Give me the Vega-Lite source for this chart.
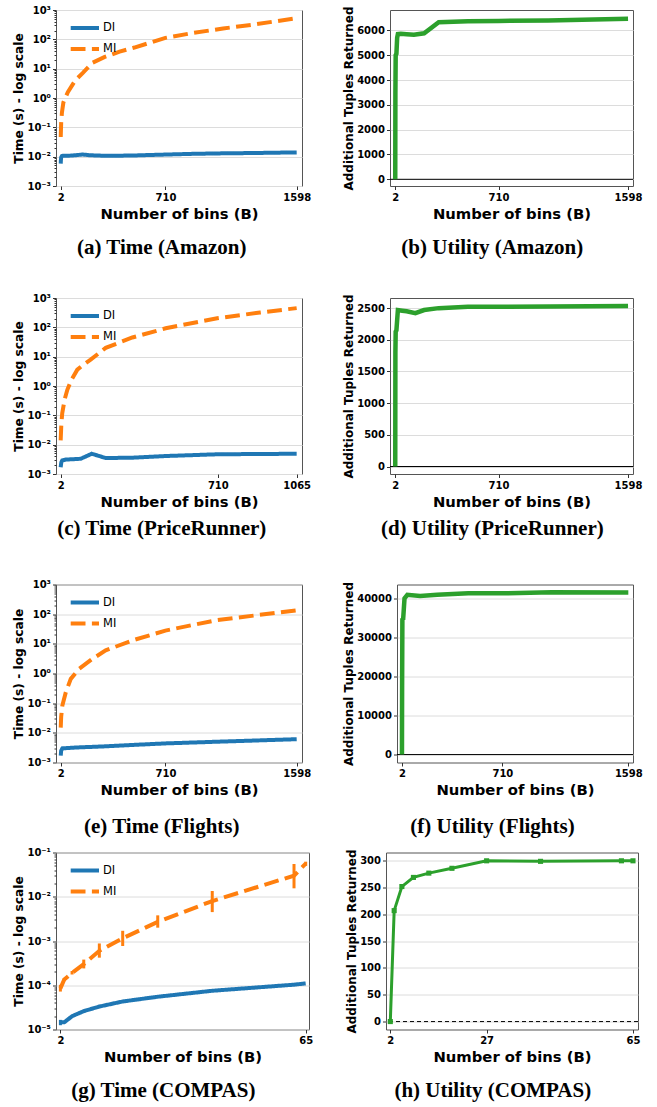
{
"$schema": "https://vega.github.io/schema/vega-lite/v6.json",
"padding": {"left": 12, "top": 4, "right": 0, "bottom": 0},
"datasets": {
"tA": [
{"B":2,"m":"DI","t":0.0058},{"B":3,"m":"DI","t":0.0075},{"B":5,"m":"DI","t":0.0095},{"B":10,"m":"DI","t":0.0105},{"B":20,"m":"DI","t":0.0108},{"B":50,"m":"DI","t":0.0107},{"B":100,"m":"DI","t":0.0112},{"B":150,"m":"DI","t":0.0118},{"B":200,"m":"DI","t":0.0112},{"B":300,"m":"DI","t":0.0107},{"B":400,"m":"DI","t":0.0108},{"B":500,"m":"DI","t":0.011},{"B":710,"m":"DI","t":0.0118},{"B":900,"m":"DI","t":0.0125},{"B":1100,"m":"DI","t":0.013},{"B":1300,"m":"DI","t":0.0133},{"B":1598,"m":"DI","t":0.014},
{"B":2,"m":"MI","t":0.0468},{"B":5,"m":"MI","t":0.141},{"B":10,"m":"MI","t":0.316},{"B":20,"m":"MI","t":0.708},{"B":50,"m":"MI","t":1.585},{"B":100,"m":"MI","t":3.98},{"B":150,"m":"MI","t":7.08},{"B":216,"m":"MI","t":15.8},{"B":300,"m":"MI","t":25.1},{"B":400,"m":"MI","t":38},{"B":500,"m":"MI","t":52.5},{"B":710,"m":"MI","t":112},{"B":900,"m":"MI","t":166},{"B":1100,"m":"MI","t":234},{"B":1300,"m":"MI","t":316},{"B":1598,"m":"MI","t":525}
],
"uA": [
{"B":2,"u":0},{"B":3,"u":3500},{"B":5,"u":5000},{"B":10,"u":5050},{"B":15,"u":5700},{"B":20,"u":5850},{"B":40,"u":5860},{"B":80,"u":5840},{"B":130,"u":5820},{"B":200,"u":5880},{"B":300,"u":6330},{"B":500,"u":6370},{"B":710,"u":6380},{"B":1050,"u":6400},{"B":1598,"u":6470}
],
"tP": [
{"B":2,"m":"DI","t":0.0017},{"B":5,"m":"DI","t":0.0025},{"B":9,"m":"DI","t":0.0029},{"B":25,"m":"DI","t":0.0031},{"B":92,"m":"DI","t":0.0033},{"B":142,"m":"DI","t":0.0049},{"B":205,"m":"DI","t":0.0035},{"B":325,"m":"DI","t":0.0036},{"B":475,"m":"DI","t":0.0041},{"B":707,"m":"DI","t":0.0047},{"B":1065,"m":"DI","t":0.0049},
{"B":2,"m":"MI","t":0.014},{"B":5,"m":"MI","t":0.05},{"B":9,"m":"MI","t":0.117},{"B":20,"m":"MI","t":0.35},{"B":32,"m":"MI","t":0.74},{"B":50,"m":"MI","t":1.6},{"B":77,"m":"MI","t":3.6},{"B":100,"m":"MI","t":5.0},{"B":137,"m":"MI","t":7.9},{"B":205,"m":"MI","t":20},{"B":325,"m":"MI","t":45},{"B":475,"m":"MI","t":93},{"B":707,"m":"MI","t":204},{"B":900,"m":"MI","t":320},{"B":1065,"m":"MI","t":452}
],
"uP": [
{"B":2,"u":0},{"B":3,"u":1800},{"B":5,"u":2130},{"B":10,"u":2150},{"B":20,"u":2470},{"B":50,"u":2460},{"B":80,"u":2450},{"B":140,"u":2420},{"B":200,"u":2470},{"B":300,"u":2500},{"B":500,"u":2520},{"B":710,"u":2520},{"B":1065,"u":2525},{"B":1598,"u":2535}
],
"tF": [
{"B":2,"m":"DI","t":0.0017},{"B":5,"m":"DI","t":0.0025},{"B":13,"m":"DI","t":0.003},{"B":103,"m":"DI","t":0.0032},{"B":300,"m":"DI","t":0.0035},{"B":486,"m":"DI","t":0.0039},{"B":710,"m":"DI","t":0.0044},{"B":1050,"m":"DI","t":0.005},{"B":1598,"m":"DI","t":0.0061},
{"B":2,"m":"MI","t":0.015},{"B":5,"m":"MI","t":0.035},{"B":13,"m":"MI","t":0.083},{"B":36,"m":"MI","t":0.23},{"B":70,"m":"MI","t":0.66},{"B":126,"m":"MI","t":1.44},{"B":216,"m":"MI","t":3.1},{"B":306,"m":"MI","t":6},{"B":486,"m":"MI","t":13},{"B":710,"m":"MI","t":28},{"B":1050,"m":"MI","t":62},{"B":1598,"m":"MI","t":135}
],
"uF": [
{"B":2,"u":0},{"B":3,"u":17600},{"B":5,"u":34900},{"B":10,"u":34500},{"B":20,"u":40000},{"B":40,"u":40900},{"B":130,"u":40600},{"B":250,"u":40900},{"B":470,"u":41300},{"B":710,"u":41300},{"B":1060,"u":41550},{"B":1598,"u":41500}
],
"tC": [
{"B":2,"m":"DI","t":0.0000145,"lo":0.0000125,"hi":0.0000165},{"B":3,"m":"DI","t":0.0000145},{"B":5,"m":"DI","t":0.00002},{"B":8,"m":"DI","t":0.000026},{"B":12,"m":"DI","t":0.000033},{"B":18,"m":"DI","t":0.000043},{"B":27,"m":"DI","t":0.000055},{"B":41,"m":"DI","t":0.000075},{"B":62,"m":"DI","t":0.000103,"lo":0.000097,"hi":0.000109},{"B":65,"m":"DI","t":0.00011},
{"B":2,"m":"MI","t":0.000085,"lo":0.000072,"hi":0.000102},{"B":3,"m":"MI","t":0.000135,"lo":0.000125,"hi":0.000145},{"B":5,"m":"MI","t":0.00019,"lo":0.000175,"hi":0.00021},{"B":8,"m":"MI","t":0.0003,"lo":0.00024,"hi":0.00038},{"B":12,"m":"MI","t":0.0006,"lo":0.00042,"hi":0.00088},{"B":18,"m":"MI","t":0.00115,"lo":0.00077,"hi":0.0017},{"B":27,"m":"MI","t":0.0027,"lo":0.002,"hi":0.0038},{"B":41,"m":"MI","t":0.008,"lo":0.0045,"hi":0.0135},{"B":62,"m":"MI","t":0.03,"lo":0.0155,"hi":0.055},{"B":65,"m":"MI","t":0.056,"lo":0.05,"hi":0.062}
],
"uC": [
{"B":2,"u":0},{"B":3,"u":207},{"B":5,"u":252},{"B":8,"u":269},{"B":12,"u":277},{"B":18,"u":286},{"B":27,"u":300},{"B":41,"u":299},{"B":62,"u":300},{"B":65,"u":300}
]
},
"spacing": 38.5,
"resolve": {"scale": {"color": "independent", "strokeDash": "independent"}},
"vconcat": [
{
"spacing": 33,
"resolve": {"scale": {"color": "independent", "strokeDash": "independent"}},
"vconcat": [
{
"spacing": 30,
"resolve": {"scale": {"color": "independent", "strokeDash": "independent"}},
"hconcat": [
{
"width": 246, "height": 176,
"title": {"text": "(a) Time (Amazon)"},
"data": {"name": "tA"},
"mark": {"type": "line", "strokeWidth": 4},
"encoding": {
"x": {"field": "B", "type": "quantitative", "scale": {"domain": [-30, 1634], "nice": false, "zero": false}, "axis": {"values": [2, 710, 1598], "format": "d", "labelOverlap": false, "title": "Number of bins (B)"}},
"y": {"field": "t", "type": "quantitative", "scale": {"type": "log", "domain": [0.001, 1000], "nice": false},
 "axis": {"title": "Time (s) - log scale", "labelOverlap": false,
  "values": [0.001,0.002,0.003,0.004,0.005,0.006,0.007,0.008,0.009,0.01,0.02,0.03,0.04,0.05,0.06,0.07,0.08,0.09,0.1,0.2,0.3,0.4,0.5,0.6,0.7,0.8,0.9,1,2,3,4,5,6,7,8,9,10,20,30,40,50,60,70,80,90,100,200,300,400,500,600,700,800,900,1000],
  "labelExpr": "abs(log(datum.value)/LN10 - round(log(datum.value)/LN10)) < 0.001 ? '10' + (round(log(datum.value)/LN10) < 0 ? '⁻' : '') + ['⁰','¹','²','³','⁴','⁵'][abs(round(log(datum.value)/LN10))] : ''",
  "gridOpacity": {"condition": {"test": "abs(log(datum.value)/LN10 - round(log(datum.value)/LN10)) < 0.001", "value": 1}, "value": 0},
  "tickSize": {"condition": {"test": "abs(log(datum.value)/LN10 - round(log(datum.value)/LN10)) < 0.001", "value": 3.5}, "value": 2}}},
"color": {"field": "m", "type": "nominal", "scale": {"domain": ["DI", "MI"], "range": ["#1f77b4", "#ff7f0e"]},
 "legend": {"title": null, "orient": "top-left", "offset": 8, "padding": 4, "symbolType": "M-0.825,0L6.25,0", "symbolSize": 64, "symbolStrokeWidth": 4, "labelOffset": 23, "rowPadding": 5, "labelFont": "DejaVu Sans", "labelFontSize": 11.5, "labelColor": "#000", "labelFontWeight": "normal"}},
"strokeDash": {"field": "m", "type": "nominal", "scale": {"domain": ["DI", "MI"], "range": [[1, 0], [14.8, 6.4]]},
 "legend": {"title": null, "orient": "top-left", "offset": 8, "padding": 4, "symbolType": "M-0.825,0L6.25,0", "symbolSize": 64, "symbolStrokeWidth": 4, "labelOffset": 23, "rowPadding": 5, "labelFont": "DejaVu Sans", "labelFontSize": 11.5, "labelColor": "#000", "labelFontWeight": "normal"}}
}
},
{
"width": 243, "height": 176,
"title": {"text": "(b) Utility (Amazon)"},
"layer": [
{"data": {"values": [{}]}, "mark": {"type": "rule", "color": "#000", "strokeWidth": 1},
 "encoding": {"y": {"datum": 0, "type": "quantitative", "scale": {"domain": [-270, 6820], "nice": false, "zero": false}, "axis": {"title": "Additional Tuples Returned", "values": [0,1000,2000,3000,4000,5000,6000], "format": "d", "labelOverlap": false, "titleFontSize": 12}}}},
{"data": {"name": "uA"}, "mark": {"type": "line", "color": "#2ca02c", "strokeWidth": 4.5},
 "encoding": {
 "x": {"field": "B", "type": "quantitative", "scale": {"domain": [-34, 1632], "nice": false, "zero": false}, "axis": {"values": [2, 710, 1598], "format": "d", "labelOverlap": false, "title": "Number of bins (B)"}},
 "y": {"field": "u", "type": "quantitative", "scale": {"domain": [-270, 6820], "nice": false, "zero": false}, "axis": {"title": "Additional Tuples Returned", "values": [0,1000,2000,3000,4000,5000,6000], "format": "d", "labelOverlap": false, "titleFontSize": 12}}}}
]
}
]
},
{
"spacing": 30,
"resolve": {"scale": {"color": "independent", "strokeDash": "independent"}},
"hconcat": [
{
"width": 246, "height": 176,
"title": {"text": "(c) Time (PriceRunner)", "offset": 9},
"data": {"name": "tP"},
"mark": {"type": "line", "strokeWidth": 4},
"encoding": {
"x": {"field": "B", "type": "quantitative", "scale": {"domain": [-19, 1089], "nice": false, "zero": false}, "axis": {"values": [2, 710, 1065], "format": "d", "labelOverlap": false, "title": "Number of bins (B)"}},
"y": {"field": "t", "type": "quantitative", "scale": {"type": "log", "domain": [0.001, 1000], "nice": false},
 "axis": {"title": "Time (s) - log scale", "labelOverlap": false,
  "values": [0.001,0.002,0.003,0.004,0.005,0.006,0.007,0.008,0.009,0.01,0.02,0.03,0.04,0.05,0.06,0.07,0.08,0.09,0.1,0.2,0.3,0.4,0.5,0.6,0.7,0.8,0.9,1,2,3,4,5,6,7,8,9,10,20,30,40,50,60,70,80,90,100,200,300,400,500,600,700,800,900,1000],
  "labelExpr": "abs(log(datum.value)/LN10 - round(log(datum.value)/LN10)) < 0.001 ? '10' + (round(log(datum.value)/LN10) < 0 ? '⁻' : '') + ['⁰','¹','²','³','⁴','⁵'][abs(round(log(datum.value)/LN10))] : ''",
  "gridOpacity": {"condition": {"test": "abs(log(datum.value)/LN10 - round(log(datum.value)/LN10)) < 0.001", "value": 1}, "value": 0},
  "tickSize": {"condition": {"test": "abs(log(datum.value)/LN10 - round(log(datum.value)/LN10)) < 0.001", "value": 3.5}, "value": 2}}},
"color": {"field": "m", "type": "nominal", "scale": {"domain": ["DI", "MI"], "range": ["#1f77b4", "#ff7f0e"]},
 "legend": {"title": null, "orient": "top-left", "offset": 8, "padding": 4, "symbolType": "M-0.825,0L6.25,0", "symbolSize": 64, "symbolStrokeWidth": 4, "labelOffset": 23, "rowPadding": 5, "labelFont": "DejaVu Sans", "labelFontSize": 11.5, "labelColor": "#000", "labelFontWeight": "normal"}},
"strokeDash": {"field": "m", "type": "nominal", "scale": {"domain": ["DI", "MI"], "range": [[1, 0], [14.8, 6.4]]},
 "legend": {"title": null, "orient": "top-left", "offset": 8, "padding": 4, "symbolType": "M-0.825,0L6.25,0", "symbolSize": 64, "symbolStrokeWidth": 4, "labelOffset": 23, "rowPadding": 5, "labelFont": "DejaVu Sans", "labelFontSize": 11.5, "labelColor": "#000", "labelFontWeight": "normal"}}
}
},
{
"width": 243, "height": 176,
"title": {"text": "(d) Utility (PriceRunner)", "offset": 9},
"layer": [
{"data": {"values": [{}]}, "mark": {"type": "rule", "color": "#000", "strokeWidth": 1},
 "encoding": {"y": {"datum": 0, "type": "quantitative", "scale": {"domain": [-118, 2660], "nice": false, "zero": false}, "axis": {"title": "Additional Tuples Returned", "values": [0,500,1000,1500,2000,2500], "format": "d", "labelOverlap": false, "titleFontSize": 12}}}},
{"data": {"name": "uP"}, "mark": {"type": "line", "color": "#2ca02c", "strokeWidth": 4.5},
 "encoding": {
 "x": {"field": "B", "type": "quantitative", "scale": {"domain": [-34, 1632], "nice": false, "zero": false}, "axis": {"values": [2, 710, 1598], "format": "d", "labelOverlap": false, "title": "Number of bins (B)"}},
 "y": {"field": "u", "type": "quantitative", "scale": {"domain": [-118, 2660], "nice": false, "zero": false}, "axis": {"title": "Additional Tuples Returned", "values": [0,500,1000,1500,2000,2500], "format": "d", "labelOverlap": false, "titleFontSize": 12}}}}
]
}
]
}
]
},
{
"spacing": 8,
"resolve": {"scale": {"color": "independent", "strokeDash": "independent"}},
"vconcat": [
{
"spacing": 30,
"resolve": {"scale": {"color": "independent", "strokeDash": "independent"}},
"hconcat": [
{
"width": 246, "height": 178,
"title": {"text": "(e) Time (Flights)", "offset": 19},
"data": {"name": "tF"},
"mark": {"type": "line", "strokeWidth": 4},
"encoding": {
"x": {"field": "B", "type": "quantitative", "scale": {"domain": [-30, 1634], "nice": false, "zero": false}, "axis": {"values": [2, 710, 1598], "format": "d", "labelOverlap": false, "title": "Number of bins (B)"}},
"y": {"field": "t", "type": "quantitative", "scale": {"type": "log", "domain": [0.001, 1000], "nice": false},
 "axis": {"title": "Time (s) - log scale", "labelOverlap": false,
  "values": [0.001,0.002,0.003,0.004,0.005,0.006,0.007,0.008,0.009,0.01,0.02,0.03,0.04,0.05,0.06,0.07,0.08,0.09,0.1,0.2,0.3,0.4,0.5,0.6,0.7,0.8,0.9,1,2,3,4,5,6,7,8,9,10,20,30,40,50,60,70,80,90,100,200,300,400,500,600,700,800,900,1000],
  "labelExpr": "abs(log(datum.value)/LN10 - round(log(datum.value)/LN10)) < 0.001 ? '10' + (round(log(datum.value)/LN10) < 0 ? '⁻' : '') + ['⁰','¹','²','³','⁴','⁵'][abs(round(log(datum.value)/LN10))] : ''",
  "gridOpacity": {"condition": {"test": "abs(log(datum.value)/LN10 - round(log(datum.value)/LN10)) < 0.001", "value": 1}, "value": 0},
  "tickSize": {"condition": {"test": "abs(log(datum.value)/LN10 - round(log(datum.value)/LN10)) < 0.001", "value": 3.5}, "value": 2}}},
"color": {"field": "m", "type": "nominal", "scale": {"domain": ["DI", "MI"], "range": ["#1f77b4", "#ff7f0e"]},
 "legend": {"title": null, "orient": "top-left", "offset": 8, "padding": 4, "symbolType": "M-0.825,0L6.25,0", "symbolSize": 64, "symbolStrokeWidth": 4, "labelOffset": 23, "rowPadding": 5, "labelFont": "DejaVu Sans", "labelFontSize": 11.5, "labelColor": "#000", "labelFontWeight": "normal"}},
"strokeDash": {"field": "m", "type": "nominal", "scale": {"domain": ["DI", "MI"], "range": [[1, 0], [14.8, 6.4]]},
 "legend": {"title": null, "orient": "top-left", "offset": 8, "padding": 4, "symbolType": "M-0.825,0L6.25,0", "symbolSize": 64, "symbolStrokeWidth": 4, "labelOffset": 23, "rowPadding": 5, "labelFont": "DejaVu Sans", "labelFontSize": 11.5, "labelColor": "#000", "labelFontWeight": "normal"}}
}
},
{
"width": 236, "height": 178,
"title": {"text": "(f) Utility (Flights)", "offset": 19},
"layer": [
{"data": {"values": [{}]}, "mark": {"type": "rule", "color": "#000", "strokeWidth": 1},
 "encoding": {"y": {"datum": 0, "type": "quantitative", "scale": {"domain": [-2030, 43550], "nice": false, "zero": false}, "axis": {"title": "Additional Tuples Returned", "values": [0,10000,20000,30000,40000], "format": "d", "labelOverlap": false, "titleFontSize": 12}}}},
{"data": {"name": "uF"}, "mark": {"type": "line", "color": "#2ca02c", "strokeWidth": 4.5},
 "encoding": {
 "x": {"field": "B", "type": "quantitative", "scale": {"domain": [-33, 1631], "nice": false, "zero": false}, "axis": {"values": [2, 710, 1598], "format": "d", "labelOverlap": false, "title": "Number of bins (B)"}},
 "y": {"field": "u", "type": "quantitative", "scale": {"domain": [-2030, 43550], "nice": false, "zero": false}, "axis": {"title": "Additional Tuples Returned", "values": [0,10000,20000,30000,40000], "format": "d", "labelOverlap": false, "titleFontSize": 12}}}}
]
}
]
},
{
"spacing": 30,
"resolve": {"scale": {"color": "independent", "strokeDash": "independent"}},
"hconcat": [
{
"width": 253, "height": 177,
"title": {"text": "(g) Time (COMPAS)"},
"data": {"name": "tC"},
"encoding": {
"x": {"field": "B", "type": "quantitative", "scale": {"domain": [0.87, 65.85], "nice": false, "zero": false}, "axis": {"values": [2, 65], "format": "d", "labelOverlap": false, "title": "Number of bins (B)"}}
},
"layer": [
{
"mark": {"type": "line", "strokeWidth": 4},
"encoding": {
"y": {"field": "t", "type": "quantitative", "scale": {"type": "log", "domain": [0.00001, 0.1], "nice": false},
 "axis": {"title": "Time (s) - log scale", "labelOverlap": false,
  "values": [0.00001,0.00002,0.00003,0.00004,0.00005,0.00006,0.00007,0.00008,0.00009,0.0001,0.0002,0.0003,0.0004,0.0005,0.0006,0.0007,0.0008,0.0009,0.001,0.002,0.003,0.004,0.005,0.006,0.007,0.008,0.009,0.01,0.02,0.03,0.04,0.05,0.06,0.07,0.08,0.09,0.1],
  "labelExpr": "abs(log(datum.value)/LN10 - round(log(datum.value)/LN10)) < 0.001 ? '10' + (round(log(datum.value)/LN10) < 0 ? '⁻' : '') + ['⁰','¹','²','³','⁴','⁵'][abs(round(log(datum.value)/LN10))] : ''",
  "gridOpacity": {"condition": {"test": "abs(log(datum.value)/LN10 - round(log(datum.value)/LN10)) < 0.001", "value": 1}, "value": 0},
  "tickSize": {"condition": {"test": "abs(log(datum.value)/LN10 - round(log(datum.value)/LN10)) < 0.001", "value": 3.5}, "value": 2}}},
"color": {"field": "m", "type": "nominal", "scale": {"domain": ["DI", "MI"], "range": ["#1f77b4", "#ff7f0e"]},
 "legend": {"title": null, "orient": "top-left", "offset": 8, "padding": 4, "symbolType": "M-0.825,0L6.25,0", "symbolSize": 64, "symbolStrokeWidth": 4, "labelOffset": 23, "rowPadding": 5, "labelFont": "DejaVu Sans", "labelFontSize": 11.5, "labelColor": "#000", "labelFontWeight": "normal"}},
"strokeDash": {"field": "m", "type": "nominal", "scale": {"domain": ["DI", "MI"], "range": [[1, 0], [14.8, 6.4]]},
 "legend": {"title": null, "orient": "top-left", "offset": 8, "padding": 4, "symbolType": "M-0.825,0L6.25,0", "symbolSize": 64, "symbolStrokeWidth": 4, "labelOffset": 23, "rowPadding": 5, "labelFont": "DejaVu Sans", "labelFontSize": 11.5, "labelColor": "#000", "labelFontWeight": "normal"}}
}
},
{
"transform": [{"filter": "isValid(datum.lo)"}],
"mark": {"type": "rule", "strokeWidth": 3},
"encoding": {
"y": {"field": "lo", "type": "quantitative", "scale": {"type": "log", "domain": [0.00001, 0.1], "nice": false}},
"y2": {"field": "hi"},
"color": {"field": "m", "type": "nominal", "scale": {"domain": ["DI", "MI"], "range": ["#1f77b4", "#ff7f0e"]},
 "legend": {"title": null, "orient": "top-left", "offset": 8, "padding": 4, "symbolType": "M-0.825,0L6.25,0", "symbolSize": 64, "symbolStrokeWidth": 4, "labelOffset": 23, "rowPadding": 5, "labelFont": "DejaVu Sans", "labelFontSize": 11.5, "labelColor": "#000", "labelFontWeight": "normal"}}
}
}
]
},
{
"width": 252, "height": 177,
"title": {"text": "(h) Utility (COMPAS)"},
"layer": [
{"data": {"values": [{}]}, "mark": {"type": "rule", "color": "#000", "strokeWidth": 1, "strokeDash": [4, 3]},
 "encoding": {"y": {"datum": 0, "type": "quantitative", "scale": {"domain": [-14.8, 315.5], "nice": false, "zero": false}, "axis": {"title": "Additional Tuples Returned", "values": [0,50,100,150,200,250,300], "format": "d", "labelOverlap": false, "titleFontSize": 12}}}},
{"data": {"name": "uC"}, "mark": {"type": "line", "color": "#2ca02c", "strokeWidth": 3, "point": {"shape": "square", "filled": true, "size": 26, "color": "#2ca02c"}},
 "encoding": {
 "x": {"field": "B", "type": "quantitative", "scale": {"domain": [0.88, 66.3], "nice": false, "zero": false}, "axis": {"values": [2, 27, 65], "format": "d", "labelOverlap": false, "title": "Number of bins (B)"}},
 "y": {"field": "u", "type": "quantitative", "scale": {"domain": [-14.8, 315.5], "nice": false, "zero": false}, "axis": {"title": "Additional Tuples Returned", "values": [0,50,100,150,200,250,300], "format": "d", "labelOverlap": false, "titleFontSize": 12}}}}
]
}
]
}
]
}
],
"config": {
"font": "DejaVu Sans",
"view": {"stroke": "#555", "strokeWidth": 1},
"axis": {"labelFont": "DejaVu Sans", "labelFontWeight": "bold", "labelFontSize": 10, "labelColor": "#000", "titleFont": "DejaVu Sans", "titleFontWeight": "bold", "titleColor": "#000", "tickColor": "#333", "tickSize": 3.5, "tickWidth": 1, "domain": false, "gridColor": "#dcdcdc", "gridWidth": 1, "labelPadding": 2.5, "labelFlush": false, "labelOverlap": false},
"axisX": {"grid": false, "titleFontSize": 14.8, "titlePadding": 4},
"axisY": {"grid": true, "titleFontSize": 12.2, "titlePadding": 1, "labelPadding": 2},
"title": {"font": "Liberation Serif", "fontWeight": "bold", "fontSize": 21, "orient": "bottom", "offset": 16, "color": "#000", "anchor": "middle", "frame": "bounds"}
}
}
